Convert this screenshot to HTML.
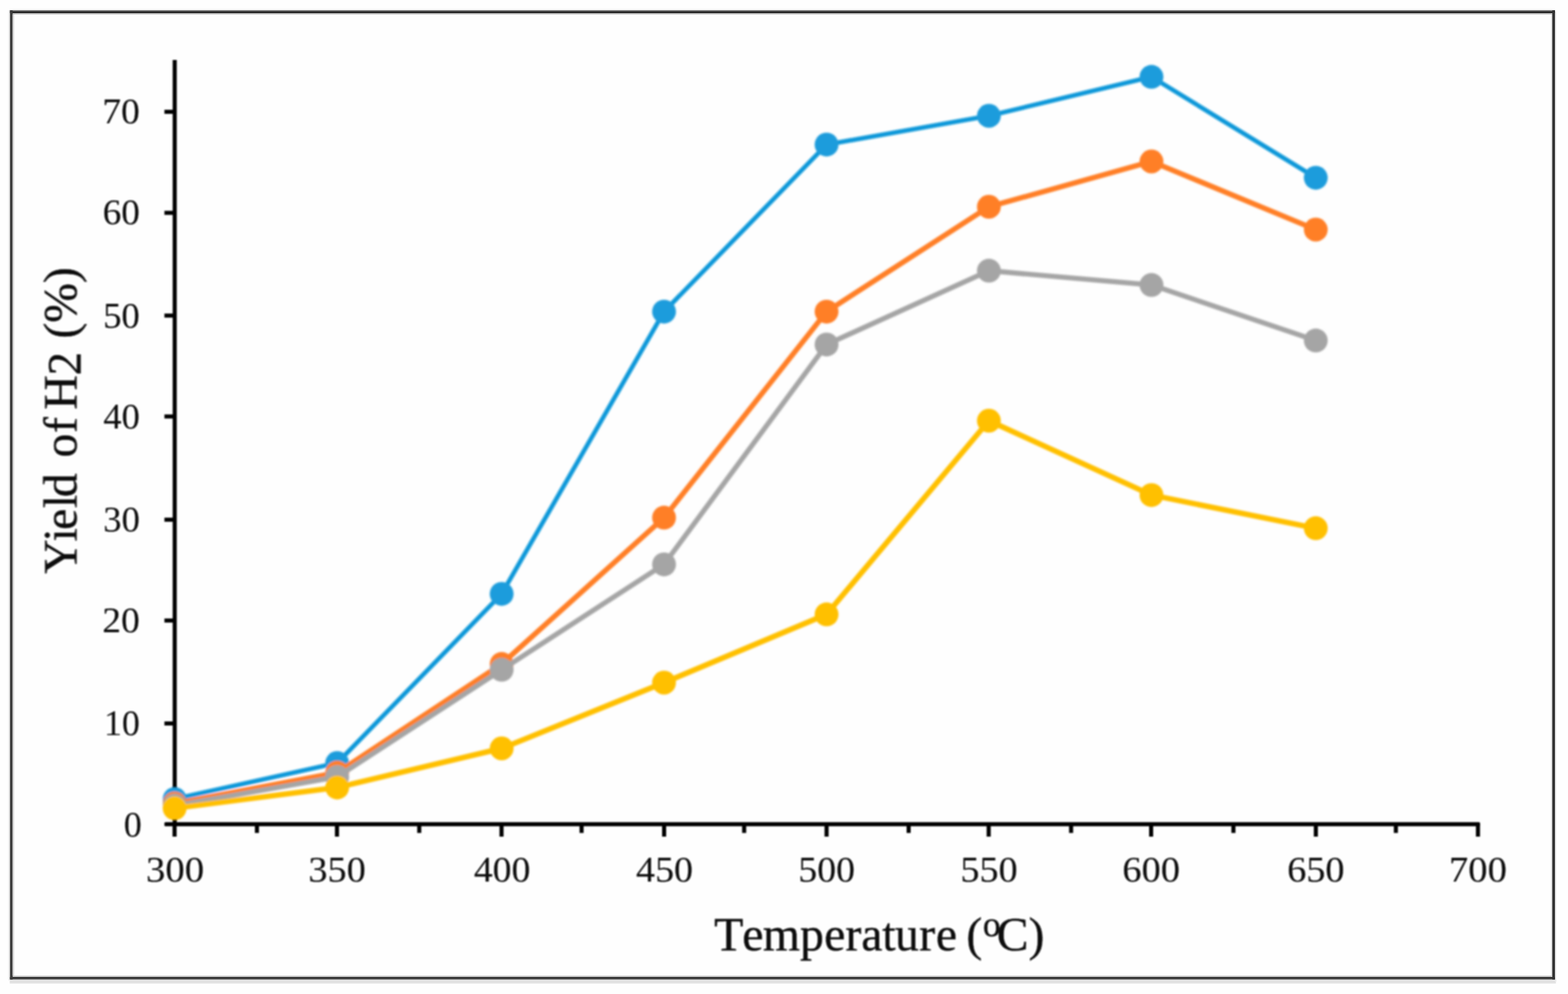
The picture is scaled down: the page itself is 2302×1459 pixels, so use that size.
<!DOCTYPE html>
<html lang="en"><head><meta charset="utf-8"><title>Yield of H2 vs Temperature</title>
<style>html,body{margin:0;padding:0;background:#fefefe;}body{width:2302px;height:1459px;overflow:hidden;}svg{display:block;}text{font-family:"Liberation Serif","Times New Roman",serif;fill:#0d0d0d;stroke:#0d0d0d;font-kerning:none;}#titles{stroke-width:0.55px;}</style>
</head><body>
<svg width="2302" height="1459" viewBox="0 0 2302 1459">
<defs><filter id="soft" x="-2%" y="-2%" width="104%" height="104%"><feGaussianBlur stdDeviation="1.0"/></filter><filter id="soft3" x="-2%" y="-2%" width="104%" height="104%"><feGaussianBlur stdDeviation="1.35"/></filter><filter id="soft2" x="-2%" y="-2%" width="104%" height="104%"><feGaussianBlur stdDeviation="0.45"/></filter></defs>
<rect x="0" y="0" width="2302" height="1459" fill="#fefefe"/>
<g id="frame" filter="url(#soft2)">
<rect x="14.3" y="1437.6" width="2270" height="6" fill="#e2e2e2"/>
<rect x="2282.8" y="17" width="2" height="1424" fill="#ececec"/>
<rect x="14.3" y="15" width="2268.6" height="2.1" fill="#6a6a6a"/>
<rect x="14.3" y="17" width="2268.6" height="2.2" fill="#181818"/>
<rect x="18" y="19.2" width="2261.5" height="1.8" fill="#aaa"/>
<rect x="18" y="1432" width="2261.5" height="2.2" fill="#c8c8c8"/>
<rect x="14.3" y="1434.2" width="2268.6" height="1.9" fill="#1a1a1a"/>
<rect x="14.3" y="1436" width="2268.6" height="1.8" fill="#555"/>
<rect x="12.0" y="15" width="2.5" height="1424" fill="#f0f0f0"/>
<rect x="14.6" y="15" width="4.0" height="1422.8" fill="#3a3a3a"/>
<rect x="18.7" y="21" width="2.0" height="1411" fill="#d8d8d8"/>
<rect x="2277.2" y="21" width="1.8" height="1411" fill="#d4d4d4"/>
<rect x="14.3" y="13.4" width="2268.6" height="1.6" fill="#f0f0f0"/>
<rect x="2279" y="15" width="3.9" height="1422.8" fill="#333"/>
</g>
<g filter="url(#soft)">
<g id="axes" fill="#000">
<rect x="253.50" y="88.00" width="6.00" height="1124.80"/>
<rect x="241.40" y="1206.80" width="1931.40" height="6.00" rx="1.5"/>
<rect x="253.30" y="1208.80" width="6.00" height="19.20"/>
<rect x="491.70" y="1208.80" width="6.00" height="19.20"/>
<rect x="733.30" y="1208.80" width="6.00" height="19.20"/>
<rect x="972.00" y="1208.80" width="6.00" height="19.20"/>
<rect x="1210.50" y="1208.80" width="6.00" height="19.20"/>
<rect x="1448.50" y="1208.80" width="6.00" height="19.20"/>
<rect x="1687.00" y="1208.80" width="6.00" height="19.20"/>
<rect x="1928.80" y="1208.80" width="6.00" height="19.20"/>
<rect x="2166.80" y="1208.80" width="6.00" height="19.20"/>
<rect x="374.20" y="1209.80" width="6.00" height="12.80"/>
<rect x="612.50" y="1209.80" width="6.00" height="12.80"/>
<rect x="850.80" y="1209.80" width="6.00" height="12.80"/>
<rect x="1089.50" y="1209.80" width="6.00" height="12.80"/>
<rect x="1331.00" y="1209.80" width="6.00" height="12.80"/>
<rect x="1569.50" y="1209.80" width="6.00" height="12.80"/>
<rect x="1807.80" y="1209.80" width="6.00" height="12.80"/>
<rect x="2046.30" y="1209.80" width="6.00" height="12.80"/>
<rect x="241.40" y="1058.90" width="15.10" height="6.00"/>
<rect x="241.40" y="907.80" width="15.10" height="6.00"/>
<rect x="241.40" y="759.80" width="15.10" height="6.00"/>
<rect x="241.40" y="608.30" width="15.10" height="6.00"/>
<rect x="241.40" y="460.20" width="15.10" height="6.00"/>
<rect x="241.40" y="309.40" width="15.10" height="6.00"/>
<rect x="241.40" y="161.10" width="15.10" height="6.00"/>
</g>
<g id="ticklabels" font-size="53.0" style="stroke-width:0.12px">
<text transform="translate(214.26 1293.9) scale(1.0735 0.98)">300</text>
<text transform="translate(452.78 1293.9) scale(1.0594 0.98)">350</text>
<text transform="translate(695.66 1293.9) scale(1.0430 0.98)">400</text>
<text transform="translate(933.76 1293.9) scale(1.0532 0.98)">450</text>
<text transform="translate(1171.97 1293.9) scale(1.0468 0.98)">500</text>
<text transform="translate(1409.95 1293.9) scale(1.0571 0.98)">550</text>
<text transform="translate(1647.84 1293.9) scale(1.0624 0.98)">600</text>
<text transform="translate(1889.64 1293.9) scale(1.0611 0.98)">650</text>
<text transform="translate(2127.29 1293.9) scale(1.0693 0.98)">700</text>
<text transform="translate(181.85 1227.5) scale(0.9960 0.98)">0</text>
<text transform="translate(152.68 1079.4) scale(0.9920 0.98)">10</text>
<text transform="translate(150.36 928.0) scale(1.0360 0.98)">20</text>
<text transform="translate(151.53 779.8) scale(1.0140 0.98)">30</text>
<text transform="translate(151.65 628.8) scale(1.0110 0.98)">40</text>
<text transform="translate(151.42 480.7) scale(1.0160 0.98)">50</text>
<text transform="translate(150.67 329.2) scale(1.0300 0.98)">60</text>
<text transform="translate(150.27 181.2) scale(1.0360 0.98)">70</text>
</g>
<g id="titles" font-size="70">
<g transform="translate(0 1394.8) scale(1 1.01)">
<text y="0" x="1048.4 1089.7 1120.0 1174.5 1209.9 1241.3 1264.6 1295.2 1314.1 1349.6 1374.0">Temperature</text>
<text x="1418.8" y="0">(</text>
<text x="1443.0" y="-20.5" font-size="52">o</text>
<text x="1463.3" y="0">C)</text>
</g>
<g transform="translate(112.3 843) rotate(-90)">
<text y="0" x="0.8 48.3 65.3 97.2 113.3">Yield</text>
<text y="0" x="171.6 207.4">of</text>
<text y="0" x="241.7">H</text>
<text y="6" x="292.0" font-size="69">2</text>
<text y="0" x="346.0">(%)</text>
</g>
</g>
</g>
<g id="series" filter="url(#soft3)" fill="none" stroke-linejoin="round" stroke-linecap="round">
<g id="s1">
<polyline points="256.4,1172.8 495.0,1120.0 736.5,871.7 974.9,457.4 1213.5,212.2 1451.8,170.0 1690.5,112.8 1931.7,260.9" stroke="#0E98D9" stroke-width="6.6"/>
<circle cx="256.4" cy="1172.8" r="17.5" fill="#1E9CDC" stroke="none"/>
<circle cx="495.0" cy="1120.0" r="17.5" fill="#1E9CDC" stroke="none"/>
<circle cx="736.5" cy="871.7" r="17.5" fill="#1E9CDC" stroke="none"/>
<circle cx="974.9" cy="457.4" r="17.5" fill="#1E9CDC" stroke="none"/>
<circle cx="1213.5" cy="212.2" r="17.5" fill="#1E9CDC" stroke="none"/>
<circle cx="1451.8" cy="170.0" r="17.5" fill="#1E9CDC" stroke="none"/>
<circle cx="1690.5" cy="112.8" r="17.5" fill="#1E9CDC" stroke="none"/>
<circle cx="1931.7" cy="260.9" r="17.5" fill="#1E9CDC" stroke="none"/>
</g>
<g id="s2">
<polyline points="256.4,1179.5 495.0,1134.1 736.5,974.6 974.9,759.8 1213.5,457.4 1451.8,303.5 1690.5,237.0 1931.7,337.0" stroke="#FF7F27" stroke-width="7.7"/>
<circle cx="256.4" cy="1179.5" r="17.5" fill="#FF7F27" stroke="none"/>
<circle cx="495.0" cy="1134.1" r="17.5" fill="#FF7F27" stroke="none"/>
<circle cx="736.5" cy="974.6" r="17.5" fill="#FF7F27" stroke="none"/>
<circle cx="974.9" cy="759.8" r="17.5" fill="#FF7F27" stroke="none"/>
<circle cx="1213.5" cy="457.4" r="17.5" fill="#FF7F27" stroke="none"/>
<circle cx="1451.8" cy="303.5" r="17.5" fill="#FF7F27" stroke="none"/>
<circle cx="1690.5" cy="237.0" r="17.5" fill="#FF7F27" stroke="none"/>
<circle cx="1931.7" cy="337.0" r="17.5" fill="#FF7F27" stroke="none"/>
</g>
<g id="s3">
<polyline points="256.4,1182.6 495.0,1140.4 736.5,983.1 974.9,828.4 1213.5,505.7 1451.8,397.3 1690.5,418.3 1931.7,499.8" stroke="#A5A5A5" stroke-width="7.4"/>
<circle cx="256.4" cy="1182.6" r="17.5" fill="#A5A5A5" stroke="none"/>
<circle cx="495.0" cy="1140.4" r="17.5" fill="#A5A5A5" stroke="none"/>
<circle cx="736.5" cy="983.1" r="17.5" fill="#A5A5A5" stroke="none"/>
<circle cx="974.9" cy="828.4" r="17.5" fill="#A5A5A5" stroke="none"/>
<circle cx="1213.5" cy="505.7" r="17.5" fill="#A5A5A5" stroke="none"/>
<circle cx="1451.8" cy="397.3" r="17.5" fill="#A5A5A5" stroke="none"/>
<circle cx="1690.5" cy="418.3" r="17.5" fill="#A5A5A5" stroke="none"/>
<circle cx="1931.7" cy="499.8" r="17.5" fill="#A5A5A5" stroke="none"/>
</g>
<g id="s4">
<polyline points="256.4,1186.3 495.0,1155.9 736.5,1098.5 974.9,1002.0 1213.5,901.8 1451.8,617.5 1690.5,726.7 1931.7,775.3" stroke="#FFC000" stroke-width="8.0"/>
<circle cx="256.4" cy="1186.3" r="17.5" fill="#FFC000" stroke="none"/>
<circle cx="495.0" cy="1155.9" r="17.5" fill="#FFC000" stroke="none"/>
<circle cx="736.5" cy="1098.5" r="17.5" fill="#FFC000" stroke="none"/>
<circle cx="974.9" cy="1002.0" r="17.5" fill="#FFC000" stroke="none"/>
<circle cx="1213.5" cy="901.8" r="17.5" fill="#FFC000" stroke="none"/>
<circle cx="1451.8" cy="617.5" r="17.5" fill="#FFC000" stroke="none"/>
<circle cx="1690.5" cy="726.7" r="17.5" fill="#FFC000" stroke="none"/>
<circle cx="1931.7" cy="775.3" r="17.5" fill="#FFC000" stroke="none"/>
</g>
</g>
</svg></body></html>
